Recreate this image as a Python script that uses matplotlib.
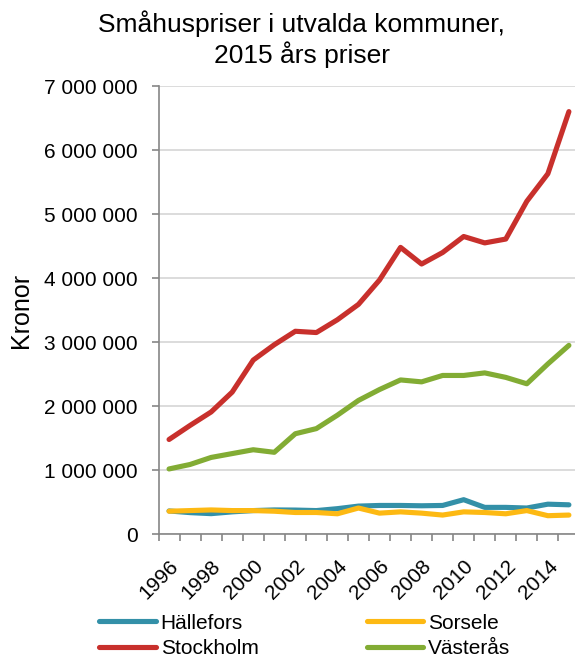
import numpy as np
import matplotlib.pyplot as plt
from matplotlib.ticker import FuncFormatter, MultipleLocator, FixedLocator

plt.rcParams['font.family'] = ['Liberation Sans', 'DejaVu Sans']

years = list(range(1996, 2016))

# Priser i kronor
hallefors = [364000, 338000, 322000, 350000, 370000, 380000, 378000, 370000, 400000, 440000,
             450000, 450000, 445000, 450000, 540000, 420000, 420000, 410000, 470000, 460000]
sorsele = [360000, 370000, 380000, 370000, 370000, 360000, 340000, 340000, 320000, 410000,
           330000, 350000, 330000, 300000, 350000, 340000, 320000, 370000, 290000, 300000]
stockholm = [1480000, 1700000, 1910000, 2220000, 2720000, 2960000, 3170000, 3150000, 3350000, 3590000,
             3970000, 4480000, 4220000, 4400000, 4650000, 4550000, 4610000, 5200000, 5630000, 6600000]
vasteras = [1020000, 1090000, 1200000, 1260000, 1320000, 1280000, 1570000, 1650000, 1860000, 2090000,
            2260000, 2410000, 2380000, 2480000, 2480000, 2520000, 2450000, 2350000, 2660000, 2950000]

series = [("Hällefors", hallefors, "#3390A8"),
          ("Sorsele", sorsele, "#FDB913"),
          ("Stockholm", stockholm, "#C8302C"),
          ("Västerås", vasteras, "#82AC34")]

fig = plt.figure(figsize=(5.75, 6.57), dpi=100)
ax = fig.add_axes([0.2757, 0.1868, 0.732, 0.6823])

lines = {}
for name, vals, col in series:
    lines[name], = ax.plot(years, vals, color=col, linewidth=3.7, label=name,
                           solid_capstyle='round')

ax.set_xlim(1995.5, 2015.5)
ax.set_ylim(0, 7000000)
ax.yaxis.set_major_locator(MultipleLocator(1000000))
ax.yaxis.set_major_formatter(FuncFormatter(lambda v, p: f"{v:,.0f}".replace(",", " ")))
ax.grid(axis='y', color='#D9D9D9', linewidth=1.3)
ax.set_axisbelow(True)

ax.xaxis.set_major_locator(FixedLocator(years[::2]))
ax.xaxis.set_minor_locator(FixedLocator(np.arange(1995.5, 2016, 1)))
ax.tick_params(axis='x', which='major', length=0, labelsize=15, pad=16)
ax.tick_params(axis='x', which='minor', length=5, color='#868686', width=1.2)
ax.tick_params(axis='y', length=5, color='#868686', width=1.2, labelsize=15, pad=10)
plt.setp(ax.get_xticklabels(), rotation=45, ha='right', rotation_mode='anchor')

for s in ['top', 'right']:
    ax.spines[s].set_visible(False)
for s in ['left', 'bottom']:
    ax.spines[s].set_color('#868686')
    ax.spines[s].set_linewidth(1.2)

ax.set_ylabel("Kronor", fontsize=18, labelpad=8)
fig.text(0.525, 1 - 32 / 657, "Småhuspriser i utvalda kommuner,",
         ha='center', va='baseline', fontsize=19)
fig.text(0.525, 1 - 63 / 657, "2015 års priser",
         ha='center', va='baseline', fontsize=19)

order = ["Hällefors", "Stockholm", "Sorsele", "Västerås"]
fig.legend([lines[n] for n in order], order, loc='lower left',
           bbox_to_anchor=(0.14, -0.03), ncol=2, frameon=False,
           fontsize=15, handlelength=2.7, columnspacing=5.2, handletextpad=0.25,
           labelspacing=0.3)

fig.savefig("out.png", dpi=100)
